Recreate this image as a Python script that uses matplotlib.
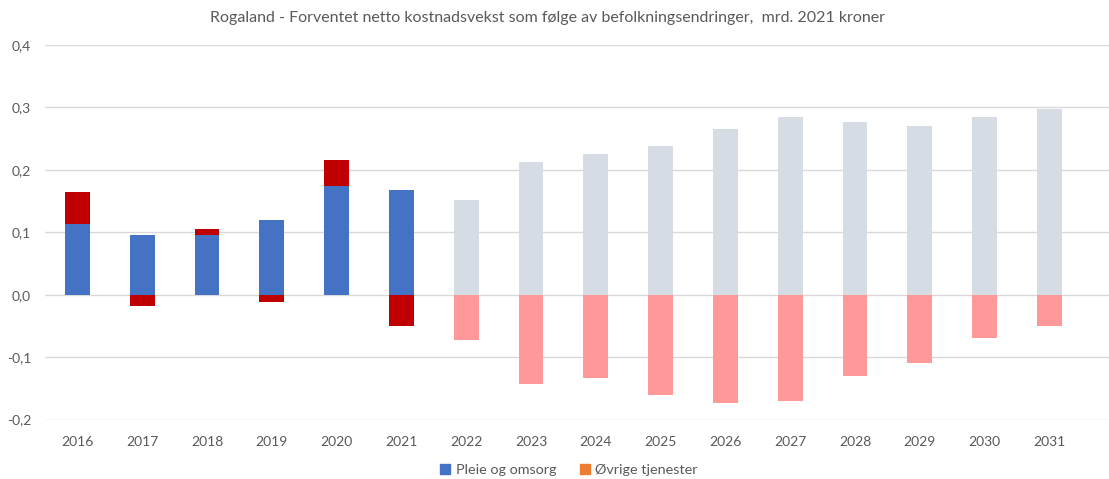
import numpy as np
import matplotlib.pyplot as plt
from matplotlib.patches import Patch

plt.rcParams['font.family'] = ['Lato', 'DejaVu Sans']

years = [2016, 2017, 2018, 2019, 2020, 2021, 2022, 2023,
         2024, 2025, 2026, 2027, 2028, 2029, 2030, 2031]
pleie = [0.114, 0.095, 0.096, 0.120, 0.174, 0.168, 0.152, 0.212,
         0.225, 0.238, 0.265, 0.284, 0.277, 0.271, 0.284, 0.298]
ovrige = [0.051, -0.018, 0.010, -0.011, 0.041, -0.051, -0.073, -0.143,
          -0.133, -0.161, -0.173, -0.171, -0.130, -0.110, -0.070, -0.050]
last_hist = 2021

title = "Rogaland - Forventet netto kostnadsvekst som følge av befolkningsendringer,  mrd. 2021 kroner"

pleie = np.array(pleie)
ovrige = np.array(ovrige)
x = np.arange(len(years))
hist = np.array(years) <= last_hist

c_pleie = np.where(hist, '#4472C4', '#D6DCE4')
c_ovrige = np.where(hist, '#C00000', '#FF9999')

fig = plt.figure(figsize=(11.09, 4.79), dpi=100)
ax = fig.add_axes([45 / 1109, 1 - 419.5 / 479, (1109 - 45) / 1109, (419.5 - 45) / 479])

w = 0.385
ax.bar(x, pleie, width=w, color=c_pleie, zorder=2)
bottom = np.where(ovrige > 0, pleie, 0)
ax.bar(x, ovrige, width=w, bottom=bottom, color=c_ovrige, zorder=2)

ax.set_ylim(-0.2, 0.4)
ax.set_xlim(-0.5, 15.92)
ax.set_yticks(np.arange(-0.2, 0.41, 0.1))
ax.set_yticklabels([f"{v:.1f}".replace('.', ',') for v in np.arange(-0.2, 0.41, 0.1)])
ax.set_xticks(x)
ax.set_xticklabels([str(y) for y in years])
ax.grid(axis='y', color='#D9D9D9', linewidth=1, zorder=0)
for s in ax.spines.values():
    s.set_visible(False)
ax.tick_params(length=0, colors='#595959', labelsize=10)
ax.tick_params(axis='y', pad=10)
ax.tick_params(axis='x', pad=12)

fig.text(0.494, 1 - 18 / 479, title, ha='center', va='center', fontsize=11.5, color='#595959')

handles = [Patch(color='#4472C4', label='Pleie og omsorg'),
           Patch(color='#ED7D31', label='Øvrige tjenester')]
fig.legend(handles=handles, loc='center', bbox_to_anchor=(569 / 1109, 1 - 470 / 479), ncol=2,
           frameon=False, fontsize=10.4, handlelength=0.7, handleheight=0.7,
           handletextpad=0.4, columnspacing=1.6, labelcolor='#595959')

fig.savefig('out.png', dpi=100)
